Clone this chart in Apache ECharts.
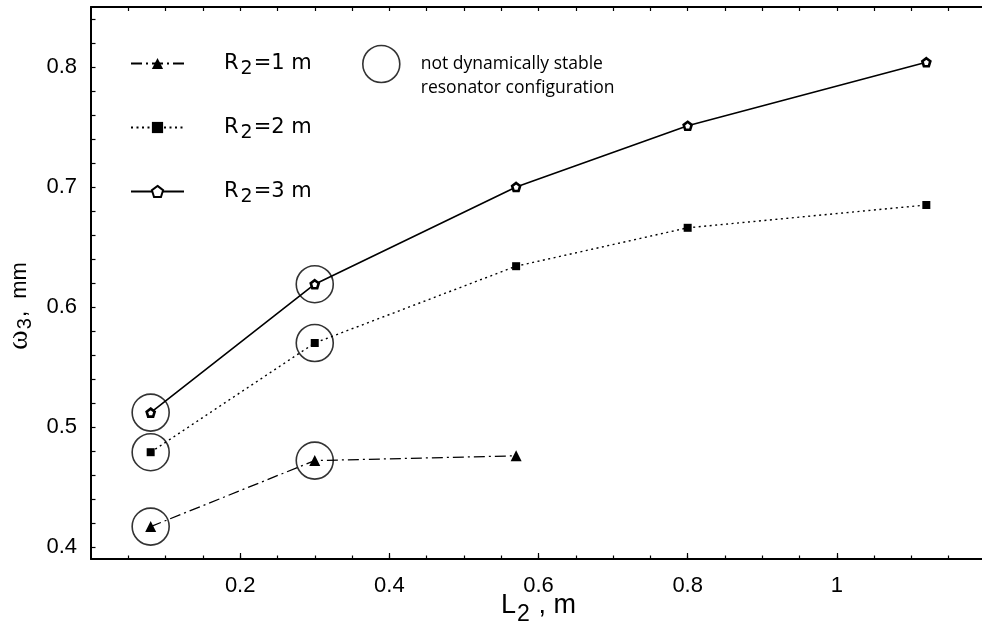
<!DOCTYPE html>
<html>
<head>
<meta charset="utf-8">
<script src="https://cdn.jsdelivr.net/npm/echarts@6/dist/echarts.min.js"></script>
<style>
  html, body { margin: 0; padding: 0; background: #fff; overflow: hidden; }
  #chart { width: 982px; height: 633px; }
</style>
</head>
<body>
<div id="chart"></div>
<script>
// Resonator length L2 (m) and beam radius w3 (mm) for three mirror radii R2
const L2 = [0.08, 0.30, 0.57, 0.80, 1.12];
const w3_R1 = [0.417, 0.472, 0.476];
const w3_R2 = [0.479, 0.570, 0.634, 0.666, 0.685];
const w3_R3 = [0.512, 0.619, 0.700, 0.751, 0.804];
// points that are not dynamically stable (indices into L2)
const unstableIdx = [0, 1];

// axis ticks
const xTickLabels = [0.2, 0.4, 0.6, 0.8, 1];
const xMinorTicks = [0.05, 0.1, 0.15, 0.2, 0.25, 0.3, 0.35, 0.4, 0.45, 0.5, 0.55, 0.6,
                     0.65, 0.7, 0.75, 0.8, 0.85, 0.9, 0.95, 1, 1.05, 1.1, 1.15];
const yTickLabels = [0.4, 0.5, 0.6, 0.7, 0.8];
const yMinorTicks = [0.40, 0.42, 0.44, 0.46, 0.48, 0.50, 0.52, 0.54, 0.56, 0.58, 0.60, 0.62,
                     0.64, 0.66, 0.68, 0.70, 0.72, 0.74, 0.76, 0.78, 0.80, 0.82, 0.84];

const seriesNames = ['R2=1 m', 'R2=2 m', 'R2=3 m'];
const stableNote = 'not dynamically stable\nresonator configuration';

const BLACK = '#000';
const SANS = '"Liberation Sans", Arial, sans-serif';
const WIDE = '"DejaVu Sans", "Liberation Sans", sans-serif';
const NARROW = '"Liberation Sans Narrow", "Liberation Sans", Arial, sans-serif';
const PENTAGON = 'path://M0,-1 L0.951,-0.309 L0.588,0.809 L-0.588,0.809 L-0.951,-0.309 Z';

const pairs = (ys) => ys.map((y, i) => [L2[i], y]);
const unstablePts = [];
[w3_R1, w3_R2, w3_R3].forEach(ys => unstableIdx.forEach(i => unstablePts.push([L2[i], ys[i]])));

const X_MIN = 0, X_MAX = 1.2, Y_MIN = 0.39, Y_MAX = 0.85;

function xAxisDef(position, ticks, len, lineOn, labels) {
  return {
    type: 'value', gridIndex: 0, position: position, min: X_MIN, max: X_MAX,
    axisLine: { show: lineOn, onZero: false, lineStyle: { color: BLACK, width: 2 } },
    axisTick: { show: true, inside: true, length: len, customValues: ticks,
                lineStyle: { color: BLACK, width: 1.2 } },
    axisLabel: labels ? {
      show: true, customValues: xTickLabels, color: BLACK, fontFamily: NARROW, fontSize: 22,
      margin: 16, formatter: v => String(v)
    } : { show: false },
    splitLine: { show: false }
  };
}

const xMain = xAxisDef('bottom', xTickLabels, 6, true, true);
xMain.name = '{l|L}{s|2}{l| , m}';
xMain.nameLocation = 'middle';
xMain.nameGap = 27;
xMain.nameMoveOverlap = false;
xMain.nameTextStyle = {
  color: BLACK, fontFamily: NARROW, fontSize: 27,
  rich: {
    l: { fontFamily: NARROW, fontSize: 27, color: BLACK },
    s: { fontFamily: NARROW, fontSize: 23, color: BLACK, padding: [17, 1, 0, 1] }
  }
};

const yMain = {
  type: 'value', gridIndex: 0, position: 'left', min: Y_MIN, max: Y_MAX,
  axisLine: { show: true, onZero: false, lineStyle: { color: BLACK, width: 2 } },
  axisTick: { show: true, inside: true, length: 4.5, customValues: yMinorTicks,
              lineStyle: { color: BLACK, width: 1.2 } },
  axisLabel: {
    show: true, customValues: yTickLabels, color: BLACK, fontFamily: SANS, fontSize: 22,
    margin: 14, formatter: v => String(v)
  },
  splitLine: { show: false },
  name: '{w|ω}{s|3}{l|,  mm}',
  nameLocation: 'middle',
  nameGap: 50,
  nameTextStyle: {
    color: BLACK, fontFamily: SANS, fontSize: 22,
    rich: {
      w: { fontFamily: '"Liberation Serif", "DejaVu Serif", serif', fontSize: 30, color: BLACK },
      s: { fontFamily: SANS, fontSize: 20, color: BLACK, padding: [12, 1, 0, 1] },
      l: { fontFamily: SANS, fontSize: 22, color: BLACK, padding: [0, 46, 0, 0] }
    }
  }
};

const legendText = {
  color: BLACK, fontFamily: WIDE, fontSize: 21,
  rich: {
    r: { fontFamily: WIDE, fontSize: 21, color: BLACK },
    p: { fontFamily: WIDE, fontSize: 21, color: BLACK, padding: [0, 0, 0, 35] },
    s: { fontFamily: WIDE, fontSize: 19, color: BLACK, padding: [11, 1, 0, 2] }
  }
};
const legendFmt = name => {
  const rest = name.slice(2);
  return '{p|R}{s|2}{r|' + rest + '}';
};
function seriesLegend(name, top) {
  return {
    show: true, orient: 'vertical', left: 125, top: top, data: [name],
    itemWidth: 53, itemHeight: 14, selectedMode: false,
    formatter: legendFmt, textStyle: legendText
  };
}

const option = {
  animation: false,
  backgroundColor: '#fff',
  grid: { show: false, borderWidth: 0, borderColor: 'rgba(0,0,0,0)',
          left: 91, right: -4, top: 7, bottom: 74, containLabel: false, outerBoundsMode: 'none' },
  xAxis: [
    xMain,
    xAxisDef('bottom', xMinorTicks, 3.5, false, false),
    xAxisDef('top', xMinorTicks, 4, true, false)
  ],
  yAxis: [yMain],
  legend: [
    seriesLegend(seriesNames[0], 48),
    seriesLegend(seriesNames[1], 112),
    seriesLegend(seriesNames[2], 176),
    {
      show: true, orient: 'vertical', left: 357, top: 23, data: [stableNote],
      icon: 'circle', itemWidth: 37, itemHeight: 37, selectedMode: false,
      itemStyle: { color: 'rgba(0,0,0,0)', borderColor: BLACK, borderWidth: 1.6 },
      formatter: name => ' \n' + name,
      textStyle: { color: BLACK, fontFamily: '"Open Sans", Lato, sans-serif', fontSize: 17.5,
                   lineHeight: 24, padding: [0, 0, 0, 16] }
    }
  ],
  series: [
    {
      name: seriesNames[0], type: 'line', xAxisIndex: 0, yAxisIndex: 0,
      data: pairs(w3_R1),
      symbol: 'triangle', symbolSize: 11,
      itemStyle: { color: BLACK },
      lineStyle: { color: BLACK, width: 1.3, type: [11, 4, 2, 4] },
      z: 3
    },
    {
      name: seriesNames[1], type: 'line', xAxisIndex: 0, yAxisIndex: 0,
      data: pairs(w3_R2),
      symbol: 'rect', symbolSize: 8,
      itemStyle: { color: BLACK },
      lineStyle: { color: BLACK, width: 1.4, type: [2, 3.5] },
      z: 3
    },
    {
      name: seriesNames[2], type: 'line', xAxisIndex: 0, yAxisIndex: 0,
      data: pairs(w3_R3),
      symbol: PENTAGON, symbolSize: 8,
      itemStyle: { color: '#fff', borderColor: BLACK, borderWidth: 2.6 },
      lineStyle: { color: BLACK, width: 1.6, type: 'solid' },
      z: 3
    },
    {
      name: stableNote, type: 'scatter', xAxisIndex: 0, yAxisIndex: 0,
      data: unstablePts,
      symbol: 'circle', symbolSize: 37,
      itemStyle: { color: 'rgba(0,0,0,0)', borderColor: BLACK, borderWidth: 1.6 },
      z: 2
    }
  ]
};

const chart = echarts.init(document.getElementById('chart'), null, { renderer: 'canvas' });
chart.setOption(option);
</script>
</body>
</html>
